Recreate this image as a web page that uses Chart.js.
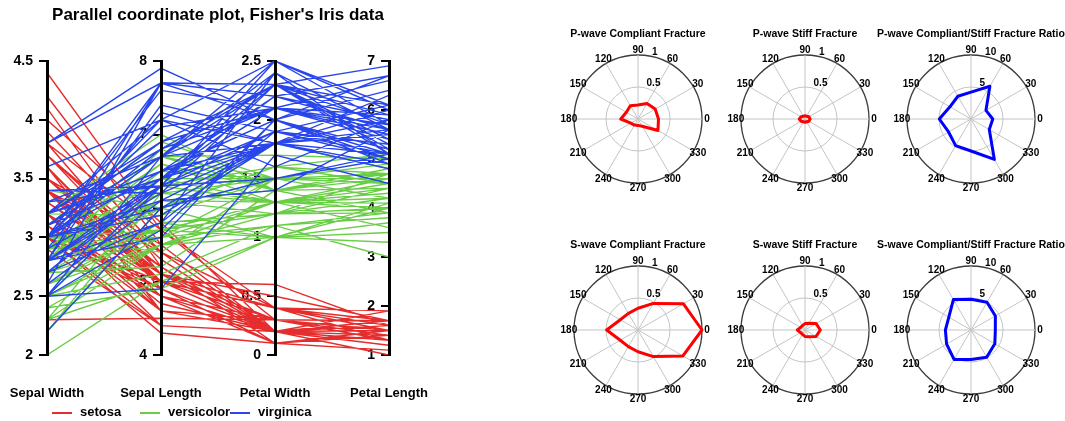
<!DOCTYPE html>
<html>
<head>
<meta charset="utf-8">
<title>Iris parallel coordinates and fracture polar plots</title>
<script src="https://cdn.jsdelivr.net/npm/chart.js"></script>
<style>
  body { margin: 0; background: #fff; overflow: hidden; width: 1065px; height: 421px; position: relative; }
  canvas { position: absolute; }
  #legend { position: absolute; left: 0; top: 404px; font: bold 13px "Liberation Sans", Arial, sans-serif; line-height: 16px; color: #000; }
  #legend .item { position: absolute; white-space: nowrap; }
  #legend .swatch { display: inline-block; width: 20px; height: 2px; vertical-align: middle; margin-right: 8px; }
</style>
</head>
<body>
<canvas id="iris" width="440" height="421" style="left:0;top:0"></canvas>
<div id="legend"></div>

<script>
// ---- Fisher's iris data (50 setosa, 50 versicolor, 50 virginica) ----
const sepalLength = [
  5.1,4.9,4.7,4.6,5.0,5.4,4.6,5.0,4.4,4.9,5.4,4.8,4.8,4.3,5.8,5.7,5.4,5.1,5.7,5.1,5.4,5.1,4.6,5.1,4.8,5.0,5.0,5.2,5.2,4.7,4.8,5.4,5.2,5.5,4.9,5.0,5.5,4.9,4.4,5.1,5.0,4.5,4.4,5.0,5.1,4.8,5.1,4.6,5.3,5.0,
  7.0,6.4,6.9,5.5,6.5,5.7,6.3,4.9,6.6,5.2,5.0,5.9,6.0,6.1,5.6,6.7,5.6,5.8,6.2,5.6,5.9,6.1,6.3,6.1,6.4,6.6,6.8,6.7,6.0,5.7,5.5,5.5,5.8,6.0,5.4,6.0,6.7,6.3,5.6,5.5,5.5,6.1,5.8,5.0,5.6,5.7,5.7,6.2,5.1,5.7,
  6.3,5.8,7.1,6.3,6.5,7.6,4.9,7.3,6.7,7.2,6.5,6.4,6.8,5.7,5.8,6.4,6.5,7.7,7.7,6.0,6.9,5.6,7.7,6.3,6.7,7.2,6.2,6.1,6.4,7.2,7.4,7.9,6.4,6.3,6.1,7.7,6.3,6.4,6.0,6.9,6.7,6.9,5.8,6.8,6.7,6.7,6.3,6.5,6.2,5.9
];
const sepalWidth = [
  3.5,3.0,3.2,3.1,3.6,3.9,3.4,3.4,2.9,3.1,3.7,3.4,3.0,3.0,4.0,4.4,3.9,3.5,3.8,3.8,3.4,3.7,3.6,3.3,3.4,3.0,3.4,3.5,3.4,3.2,3.1,3.4,4.1,4.2,3.1,3.2,3.5,3.6,3.0,3.4,3.5,2.3,3.2,3.5,3.8,3.0,3.8,3.2,3.7,3.3,
  3.2,3.2,3.1,2.3,2.8,2.8,3.3,2.4,2.9,2.7,2.0,3.0,2.2,2.9,2.9,3.1,3.0,2.7,2.2,2.5,3.2,2.8,2.5,2.8,2.9,3.0,2.8,3.0,2.9,2.6,2.4,2.4,2.7,2.7,3.0,3.4,3.1,2.3,3.0,2.5,2.6,3.0,2.6,2.3,2.7,3.0,2.9,2.9,2.5,2.8,
  3.3,2.7,3.0,2.9,3.0,3.0,2.5,2.9,2.5,3.6,3.2,2.7,3.0,2.5,2.8,3.2,3.0,3.8,2.6,2.2,3.2,2.8,2.8,2.7,3.3,3.2,2.8,3.0,2.8,3.0,2.8,3.8,2.8,2.8,2.6,3.0,3.4,3.1,3.0,3.1,3.1,3.1,2.7,3.2,3.3,3.0,2.5,3.0,3.4,3.0
];
const petalLength = [
  1.4,1.4,1.3,1.5,1.4,1.7,1.4,1.5,1.4,1.5,1.5,1.6,1.4,1.1,1.2,1.5,1.3,1.4,1.7,1.5,1.7,1.5,1.0,1.7,1.9,1.6,1.6,1.5,1.4,1.6,1.6,1.5,1.5,1.4,1.5,1.2,1.3,1.4,1.3,1.5,1.3,1.3,1.3,1.6,1.9,1.4,1.6,1.4,1.5,1.4,
  4.7,4.5,4.9,4.0,4.6,4.5,4.7,3.3,4.6,3.9,3.5,4.2,4.0,4.7,3.6,4.4,4.5,4.1,4.5,3.9,4.8,4.0,4.9,4.7,4.3,4.4,4.8,5.0,4.5,3.5,3.8,3.7,3.9,5.1,4.5,4.5,4.7,4.4,4.1,4.0,4.4,4.6,4.0,3.3,4.2,4.2,4.2,4.3,3.0,4.1,
  6.0,5.1,5.9,5.6,5.8,6.6,4.5,6.3,5.8,6.1,5.1,5.3,5.5,5.0,5.1,5.3,5.5,6.7,6.9,5.0,5.7,4.9,6.7,4.9,5.7,6.0,4.8,4.9,5.6,5.8,6.1,6.4,5.6,5.1,5.6,6.1,5.6,5.5,4.8,5.4,5.6,5.1,5.1,5.9,5.7,5.2,5.0,5.2,5.4,5.1
];
const petalWidth = [
  0.2,0.2,0.2,0.2,0.2,0.4,0.3,0.2,0.2,0.1,0.2,0.2,0.1,0.1,0.2,0.4,0.4,0.3,0.3,0.3,0.2,0.4,0.2,0.5,0.2,0.2,0.4,0.2,0.2,0.2,0.2,0.4,0.1,0.2,0.2,0.2,0.2,0.1,0.2,0.2,0.3,0.3,0.2,0.6,0.4,0.3,0.2,0.2,0.2,0.2,
  1.4,1.5,1.5,1.3,1.5,1.3,1.6,1.0,1.3,1.4,1.0,1.5,1.0,1.4,1.3,1.4,1.5,1.0,1.5,1.1,1.8,1.3,1.5,1.2,1.3,1.4,1.4,1.7,1.5,1.0,1.1,1.0,1.2,1.6,1.5,1.6,1.5,1.3,1.3,1.3,1.2,1.4,1.2,1.0,1.3,1.2,1.3,1.3,1.1,1.3,
  2.5,1.9,2.1,1.8,2.2,2.1,1.7,1.8,1.8,2.5,2.0,1.9,2.1,2.0,2.4,2.3,1.8,2.2,2.3,1.5,2.3,2.0,2.0,1.8,2.1,1.8,1.8,1.8,2.1,1.6,1.9,2.0,2.2,1.5,1.4,2.3,2.4,1.8,1.8,2.1,2.4,2.3,1.9,2.3,2.5,2.3,1.9,2.0,2.3,1.8
];
const species = ['setosa', 'versicolor', 'virginica'];
const speciesColors = ['rgb(230,45,45)', 'rgb(105,205,70)', 'rgb(40,70,235)'];
const perSpecies = 50;

// parallel axes, left to right
const axisNames = ['Sepal Width', 'Sepal Length', 'Petal Width', 'Petal Length'];
const axisValues = [sepalWidth, sepalLength, petalWidth, petalLength];
const axisMin = [2, 4, 0, 1];
const axisMax = [4.5, 8, 2.5, 7];
const axisStep = [0.5, 1, 0.5, 1];

// ---- polar plots (values listed clockwise from 90 deg) ----
const angleLabels = ['90', '60', '30', '0', '330', '300', '270', '240', '210', '180', '150', '120'];
const pCompliant = [0.22, 0.28, 0.31, 0.32, 0.36, 0.13, 0.10, 0.11, 0.13, 0.27, 0.21, 0.24];
const pStiff     = [0.05, 0.05, 0.07, 0.08, 0.07, 0.05, 0.05, 0.05, 0.07, 0.09, 0.07, 0.05];
const pRatio     = [4.2, 5.9, 2.7, 3.4, 3.3, 7.3, 5.0, 4.8, 4.05, 4.95, 3.8, 4.1];
const sCompliant = [0.34, 0.48, 0.82, 1.0, 0.81, 0.48, 0.34, 0.30, 0.32, 0.49, 0.32, 0.30];
const sStiff     = [0.10, 0.12, 0.20, 0.24, 0.20, 0.12, 0.10, 0.08, 0.08, 0.12, 0.08, 0.08];
const sRatio     = [4.8, 5.0, 4.4, 3.8, 4.3, 4.9, 4.6, 5.3, 4.4, 4.0, 4.0, 5.5];
const polarTitles = [
  'P-wave Compliant Fracture', 'P-wave Stiff Fracture', 'P-wave Compliant/Stiff Fracture Ratio',
  'S-wave Compliant Fracture', 'S-wave Stiff Fracture', 'S-wave Compliant/Stiff Fracture Ratio'
];
const polarSeries = [pCompliant, pStiff, pRatio, sCompliant, sStiff, sRatio];
const polarMax = [1, 1, 10, 1, 1, 10];
const polarColors = ['#ff0000', '#ff0000', '#0000ff', '#ff0000', '#ff0000', '#0000ff'];

const FONT = '"Liberation Sans", Arial, sans-serif';

// ---------- parallel coordinates ----------
const datasets = species.map((name, s) => {
  const pts = [];
  for (let i = s * perSpecies; i < (s + 1) * perSpecies; i++) {
    axisValues.forEach((vals, j) => {
      pts.push({ x: j, y: (vals[i] - axisMin[j]) / (axisMax[j] - axisMin[j]) });
    });
    pts.push({ x: 3, y: null }); // break between flowers
  }
  return {
    label: name,
    data: pts,
    borderColor: speciesColors[s],
    backgroundColor: speciesColors[s],
    borderWidth: 1.4,
    pointRadius: 0,
    order: species.length - s
  };
});

const scales = {
  x: {
    type: 'linear', min: 0, max: 3,
    // invisible tick marks give the gap between axes and their names
    grid: { display: true, drawOnChartArea: false, drawTicks: true, tickLength: 32, color: 'rgba(0,0,0,0)' },
    border: { display: false },
    ticks: { stepSize: 1, padding: 0, color: '#000',
      font: { family: FONT, size: 13, weight: 'bold', lineHeight: 1 },
      callback: v => axisNames[v] }
  },
  y: { display: false, min: 0, max: 1 }
};
axisNames.forEach((name, j) => {
  scales['y' + j] = {
    axis: 'y', type: 'linear', position: { x: j },
    min: axisMin[j], max: axisMax[j],
    ticks: { stepSize: axisStep[j], color: '#000',
      font: { family: FONT, size: 14, weight: 'bold' },
      callback: v => String(v) + '\u2003' },
    grid: { drawOnChartArea: false, drawTicks: true, tickLength: 7, color: '#000', lineWidth: 2 },
    border: { display: true, color: '#000', width: 3, z: 1 }
  };
});

new Chart(document.getElementById('iris'), {
  type: 'line',
  data: { datasets },
  options: {
    responsive: false,
    animation: false,
    devicePixelRatio: 1,
    layout: { padding: { left: 47, right: 51, top: 0, bottom: 21 } },
    plugins: {
      legend: { display: false },
      tooltip: { enabled: false },
      title: {
        display: true,
        text: "Parallel coordinate plot, Fisher's Iris data",
        color: '#000',
        font: { family: FONT, size: 17, weight: 'bold' },
        padding: { top: 5, bottom: 35.6 }
      }
    },
    scales
  }
});

// legend under the plot
const legend = document.getElementById('legend');
const legendLeft = [52, 140, 230];
species.forEach((name, s) => {
  const item = document.createElement('span');
  item.className = 'item';
  item.style.left = legendLeft[s] + 'px';
  item.innerHTML = '<span class="swatch" style="background:' + speciesColors[s] + '"></span>' + name;
  legend.appendChild(item);
});

// ---------- polar plots ----------
const polarText = {
  id: 'polarText',
  beforeDatasetsDraw(chart) {
    const r = chart.scales.r;
    const ctx = chart.ctx;
    ctx.save();
    ctx.fillStyle = '#000';
    ctx.font = 'bold 10px ' + FONT;
    ctx.textAlign = 'center';
    ctx.textBaseline = 'middle';
    chart.data.labels.forEach((lab, i) => {
      const p = r.getPointPosition(i, r.drawingArea * 1.08);
      ctx.fillText(lab, p.x, p.y);
    });
    ctx.textAlign = 'left';
    ctx.textBaseline = 'bottom';
    const a = 80 * Math.PI / 180;
    r.ticks.forEach(t => {
      if (t.value <= 0) return;
      const d = r.getDistanceFromCenterForValue(t.value);
      ctx.fillText(String(t.value), r.xCenter + d * Math.cos(a) + 3, r.yCenter - d * Math.sin(a) + 1);
    });
    ctx.restore();
  }
};

const centersX = [638, 805, 971];
const centersY = [119, 330];

polarTitles.forEach((title, k) => {
  const cv = document.createElement('canvas');
  cv.width = 200;
  cv.height = 200;
  cv.style.left = (centersX[k % 3] - 100) + 'px';
  cv.style.top = (centersY[Math.floor(k / 3)] - 100) + 'px';
  document.body.appendChild(cv);
  const rmax = polarMax[k];
  new Chart(cv, {
    type: 'radar',
    data: {
      labels: angleLabels,
      datasets: [{
        data: polarSeries[k],
        borderColor: polarColors[k],
        borderWidth: 3,
        borderJoinStyle: 'round',
        pointRadius: 0,
        fill: false
      }]
    },
    options: {
      responsive: false,
      animation: false,
      devicePixelRatio: 1,
      layout: { padding: { left: 0, right: 0, top: 0, bottom: 36 } },
      plugins: {
        legend: { display: false },
        tooltip: { enabled: false },
        title: {
          display: true, text: title, color: '#000',
          font: { family: FONT, size: 10.5, weight: 'bold' },
          padding: { top: 8.7, bottom: 14.7 }
        }
      },
      scales: {
        r: {
          min: 0, max: rmax,
          ticks: { display: false, stepSize: rmax / 2 },
          pointLabels: { display: false },
          grid: {
            circular: true,
            color: ctx => (ctx.tick && ctx.tick.value === rmax ? '#3c3c3c' : '#c4c4c4'),
            lineWidth: ctx => (ctx.tick && ctx.tick.value === rmax ? 1.3 : 1)
          },
          angleLines: { color: '#c4c4c4', lineWidth: 1 }
        }
      }
    },
    plugins: [polarText]
  });
});
</script>
</body>
</html>
